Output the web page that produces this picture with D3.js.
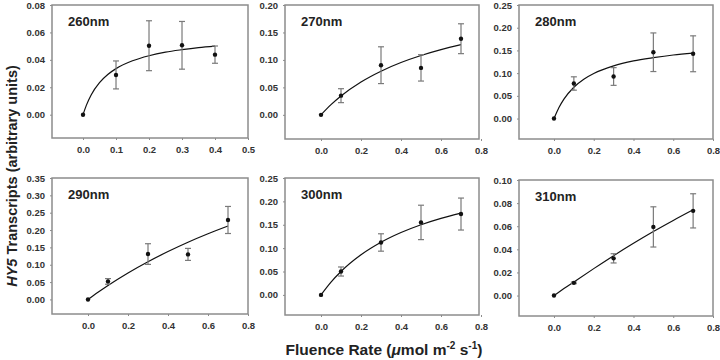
<!DOCTYPE html>
<html>
<head>
<meta charset="utf-8">
<script src="https://cdn.jsdelivr.net/npm/d3@7/dist/d3.min.js"></script>
<style>
body{margin:0;background:#fff;}
svg{display:block;}
text{font-family:Arial,"Liberation Sans",sans-serif;}
</style>
</head>
<body>
<svg id="chart" width="720" height="360"></svg>
<script>
// ---- data ----
const panelTitles = ["260nm","270nm","280nm","290nm","300nm","310nm"];
const fluence260 = [0, 0.1, 0.2, 0.3, 0.4];
const fluence = [0, 0.1, 0.3, 0.5, 0.7];
const y260 = [0, 0.029, 0.0503, 0.0506, 0.0438];
const err260 = [0, 0.0102, 0.0182, 0.0174, 0.0063];
const y270 = [0, 0.0349, 0.0904, 0.0855, 0.1386];
const err270 = [0, 0.0127, 0.0335, 0.024, 0.0272];
const y280 = [0, 0.0772, 0.0926, 0.146, 0.1426];
const err280 = [0, 0.0147, 0.0195, 0.0425, 0.0395];
const y290 = [0, 0.0519, 0.1308, 0.1298, 0.229];
const err290 = [0, 0.0082, 0.0298, 0.0173, 0.039];
const y300 = [0, 0.05, 0.1121, 0.155, 0.1729];
const err300 = [0, 0.0097, 0.0186, 0.0368, 0.0342];
const y310 = [0, 0.011, 0.0322, 0.0594, 0.0733];
const err310 = [0, 0.0007, 0.004, 0.0174, 0.0148];
// fitted curves
const curveX260 = [0, 0.01, 0.025, 0.05, 0.075, 0.1, 0.15, 0.2, 0.25, 0.3, 0.35, 0.4];
const curveY260 = [0, 0.0068, 0.0146, 0.0234, 0.0293, 0.0336, 0.0393, 0.043, 0.0456, 0.0474, 0.0489, 0.05];
const curveX = [0, 0.05, 0.1, 0.2, 0.3, 0.4, 0.5, 0.6, 0.7];
const curveX280 = [0, 0.025, 0.05, 0.1, 0.15, 0.2, 0.3, 0.4, 0.5, 0.6, 0.7];
const curveY270 = [0, 0.0185, 0.0343, 0.0598, 0.0795, 0.0952, 0.108, 0.1187, 0.1277];
const curveY280 = [0, 0.0244, 0.0429, 0.069, 0.0866, 0.0992, 0.116, 0.1268, 0.134, 0.1399, 0.144];
const curveY290 = [0, 0.0205, 0.0402, 0.0763, 0.1087, 0.138, 0.1648, 0.1892, 0.2115];
const curveY300 = [0, 0.0273, 0.05, 0.0857, 0.1125, 0.1333, 0.15, 0.1636, 0.175];
const curveY310 = [0, 0.006, 0.0118, 0.0233, 0.0345, 0.0452, 0.0554, 0.065, 0.0742];
// tick labels
const xTicks05 = [0.0, 0.1, 0.2, 0.3, 0.4, 0.5];
const xTicks08 = [0.0, 0.2, 0.4, 0.6, 0.8];
const yTicks260 = [0.00, 0.02, 0.04, 0.06, 0.08];
const yTicks270 = [0.00, 0.05, 0.10, 0.15, 0.20];
const yTicks280 = [0.00, 0.05, 0.10, 0.15, 0.20, 0.25];
const yTicks290 = [0.00, 0.05, 0.10, 0.15, 0.20, 0.25, 0.30, 0.35];
const yTicks300 = [0.00, 0.05, 0.10, 0.15, 0.20, 0.25];
const yTicks310 = [0.00, 0.02, 0.04, 0.06, 0.08, 0.10];

const panels = [
  {title: panelTitles[0], x: fluence260, y: y260, e: err260, cx: curveX260, cy: curveY260,
   xd: [-0.094, 0.5], yd: [-0.017, 0.08], xt: xTicks05, yt: yTicks260, xf: ".1f", yf: ".2f",
   box: [52, 5, 248, 138]},
  {title: panelTitles[1], x: fluence, y: y270, e: err270, cx: curveX, cy: curveY270,
   xd: [-0.18, 0.79], yd: [-0.044, 0.2], xt: xTicks08, yt: yTicks270, xf: ".1f", yf: ".2f",
   box: [285, 5, 479, 139]},
  {title: panelTitles[2], x: fluence, y: y280, e: err280, cx: curveX280, cy: curveY280,
   xd: [-0.176, 0.8], yd: [-0.045, 0.25], xt: xTicks08, yt: yTicks280, xf: ".1f", yf: ".2f",
   box: [519, 5, 713, 139]},
  {title: panelTitles[3], x: fluence, y: y290, e: err290, cx: curveX, cy: curveY290,
   xd: [-0.18, 0.8], yd: [-0.042, 0.35], xt: xTicks08, yt: yTicks290, xf: ".1f", yf: ".2f",
   box: [52, 178, 248, 314]},
  {title: panelTitles[4], x: fluence, y: y300, e: err300, cx: curveX, cy: curveY300,
   xd: [-0.18, 0.79], yd: [-0.043, 0.25], xt: xTicks08, yt: yTicks300, xf: ".1f", yf: ".2f",
   box: [285, 178, 479, 315]},
  {title: panelTitles[5], x: fluence, y: y310, e: err310, cx: curveX, cy: curveY310,
   xd: [-0.176, 0.8], yd: [-0.0177, 0.10], xt: xTicks08, yt: yTicks310, xf: ".1f", yf: ".2f",
   box: [519, 180, 713, 316]}
];

const svg = d3.select("#chart");
const frameColor = "#8c8c8c";
const labelColor = "#333";
const errColor = "#7a7a7a";

panels.forEach(p => {
  const [x0, y0, x1, y1] = p.box;
  const xs = d3.scaleLinear().domain(p.xd).range([x0, x1]);
  const ys = d3.scaleLinear().domain(p.yd).range([y1, y0]);
  const g = svg.append("g");

  const xAxis = d3.axisBottom(xs).tickValues(p.xt).tickFormat(d3.format(p.xf)).tickSize(2).tickPadding(6);
  const gx = g.append("g").attr("transform", `translate(0,${y1})`).call(xAxis);
  const yAxis = d3.axisLeft(ys).tickValues(p.yt).tickFormat(d3.format(p.yf)).tickSize(2).tickPadding(5);
  const gy = g.append("g").attr("transform", `translate(${x0},0)`).call(yAxis);
  [gx, gy].forEach(a => {
    a.select(".domain").remove();
    a.selectAll(".tick line").attr("stroke", frameColor).attr("stroke-width", 1);
    a.selectAll(".tick text").attr("fill", labelColor).attr("font-size", 9.5)
      .attr("font-weight", "bold").attr("font-family", "Arial, 'Liberation Sans', sans-serif");
  });

  g.append("rect").attr("x", x0).attr("y", y0).attr("width", x1 - x0).attr("height", y1 - y0)
    .attr("fill", "none").attr("stroke", frameColor).attr("stroke-width", 1.5);

  g.append("text").attr("x", x0 + 16).attr("y", y0 + 21).text(p.title)
    .attr("font-size", 13).attr("font-weight", "bold").attr("fill", "#222");

  const line = d3.line().x((d, i) => xs(p.cx[i])).y((d, i) => ys(p.cy[i])).curve(d3.curveMonotoneX);
  g.append("path").datum(p.cy).attr("d", line).attr("fill", "none")
    .attr("stroke", "#111").attr("stroke-width", 1.2);

  const pts = p.x.map((xv, i) => ({x: xv, y: p.y[i], e: p.e[i]}));
  const eb = g.selectAll(".eb").data(pts.filter(d => d.e > 0)).enter().append("g");
  eb.append("line").attr("x1", d => xs(d.x)).attr("x2", d => xs(d.x))
    .attr("y1", d => ys(d.y - d.e)).attr("y2", d => ys(d.y + d.e))
    .attr("stroke", errColor).attr("stroke-width", 1.2);
  [1, -1].forEach(s => {
    eb.append("line").attr("x1", d => xs(d.x) - 3).attr("x2", d => xs(d.x) + 3)
      .attr("y1", d => ys(d.y + s * d.e)).attr("y2", d => ys(d.y + s * d.e))
      .attr("stroke", errColor).attr("stroke-width", 1.2);
  });

  g.selectAll(".pt").data(pts).enter().append("circle")
    .attr("cx", d => xs(d.x)).attr("cy", d => ys(d.y)).attr("r", 2.2).attr("fill", "#111");
});

const yt = svg.append("text").attr("transform", "translate(17,176) rotate(-90)")
  .attr("text-anchor", "middle").attr("font-size", 14.5).attr("font-weight", "bold").attr("fill", "#222");
yt.append("tspan").attr("font-style", "italic").text("HY5");
yt.append("tspan").text(" Transcripts (arbitrary units)");

const xt = svg.append("text").attr("x", 384).attr("y", 355)
  .attr("text-anchor", "middle").attr("font-size", 15.5).attr("font-weight", "bold").attr("fill", "#222");
xt.append("tspan").text("Fluence Rate (");
xt.append("tspan").attr("font-style", "italic").text("μ");
xt.append("tspan").text("mol m");
xt.append("tspan").attr("font-size", 10).attr("dy", -6).text("-2");
xt.append("tspan").attr("dy", 6).text(" s");
xt.append("tspan").attr("font-size", 10).attr("dy", -6).text("-1");
xt.append("tspan").attr("dy", 6).text(")");
</script>
</body>
</html>
